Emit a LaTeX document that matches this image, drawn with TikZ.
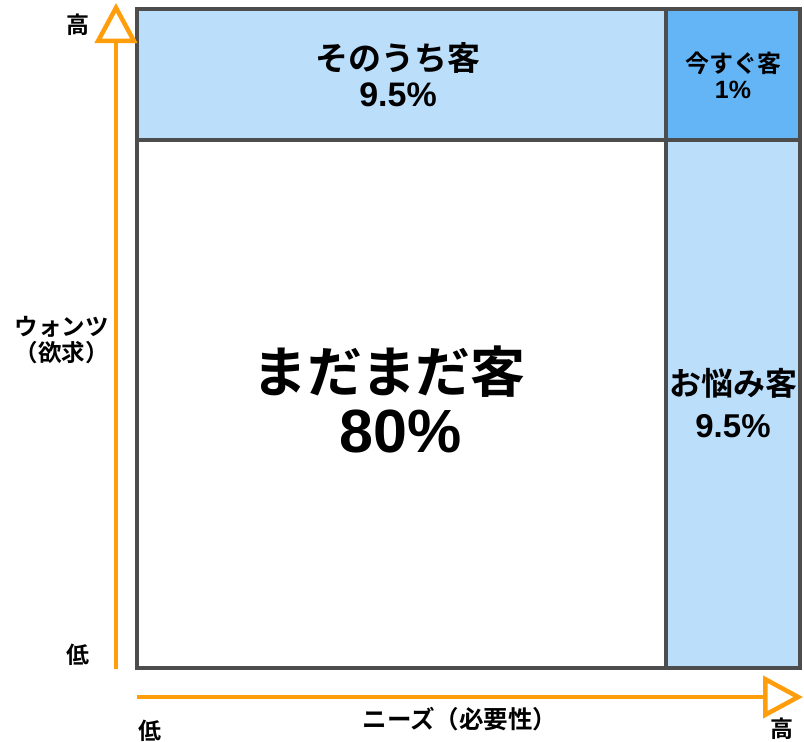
\documentclass[tikz,border=0pt]{standalone}
\usepackage{fontspec}
\setmainfont{Noto Sans CJK JP}[BoldFont={* Bold}]
\newfontfamily\digitfont{Liberation Sans}
\usetikzlibrary{arrows.meta}
\definecolor{lightcell}{HTML}{BBDEFB}
\definecolor{darkcell}{HTML}{64B5F6}
\definecolor{gridline}{HTML}{4D4D4D}
\definecolor{axisorange}{HTML}{FF9D0A}
\tikzset{
  cell/.style={draw=gridline, line width=3.5pt},
  lbl/.style={font=\bfseries, text=black, align=center, inner sep=0pt},
  axis/.style={draw=axisorange, line width=4pt, -{Triangle[open, fill=white, length=40pt, width=42pt, line width=4.5pt]}},
}
\begin{document}
\begin{tikzpicture}[x=1pt,y=-1pt]
\useasboundingbox (0,0) rectangle (804,742);
% cells
\fill[lightcell] (137,9) rectangle (666,140);
\fill[darkcell] (666,9) rectangle (800,140);
\fill[lightcell] (666,140) rectangle (800,668);
\draw[cell] (137,9) rectangle (800,668);
\draw[cell] (666,9) -- (666,668);
\draw[cell] (137,140) -- (800,140);
% axes
\coordinate (ys) at (116,669);
\coordinate (ye) at (116,3);
\coordinate (xs) at (137,697);
\coordinate (xe) at (803,697);
\draw[axis] (ys) -- (ye);
\draw[axis] (xs) -- (xe);
% labels
\node[lbl, font=\bfseries\fontsize{33}{37}\selectfont] (sono) at (398,58) {そのうち客};
\node[lbl, font=\digitfont\bfseries\fontsize{34}{37}\selectfont] (sonop) at (398,95) {9.5\%};
\node[lbl, font=\bfseries\fontsize{24}{27}\selectfont] (ima) at (733,63) {今すぐ客};
\node[lbl, font=\digitfont\bfseries\fontsize{25}{27}\selectfont] (imap) at (733,90) {1\%};
\node[lbl, font=\bfseries\fontsize{55}{58}\selectfont] (mada) at (389,372) {まだまだ客};
\node[lbl, font=\digitfont\bfseries\fontsize{61}{58}\selectfont] (madap) at (401,431) {80\%};
\node[lbl, font=\bfseries\fontsize{32}{42}\selectfont] (onayami) at (733,383) {お悩み客};
\node[lbl, font=\digitfont\bfseries\fontsize{33}{42}\selectfont] (onayamip) at (733,426) {9.5\%};
\node[lbl, font=\bfseries\fontsize{23.5}{26}\selectfont] (wants) at (62,327) {ウォンツ};
\node[lbl, font=\bfseries\fontsize{23.5}{26}\selectfont] (wantsb) at (62,353) {（欲求）};
\node[lbl, font=\bfseries\fontsize{24.5}{26}\selectfont] (needs) at (460,719) {ニーズ（必要性）};
\node[lbl, font=\bfseries\fontsize{23}{26}\selectfont] (yhigh) at (78,25) {高};
\node[lbl, font=\bfseries\fontsize{23}{26}\selectfont] (ylow) at (78,655) {低};
\node[lbl, font=\bfseries\fontsize{23}{26}\selectfont] (xlow) at (150,731) {低};
\node[lbl, font=\bfseries\fontsize{23}{26}\selectfont] (xhigh) at (782,729) {高};
\end{tikzpicture}
\end{document}
